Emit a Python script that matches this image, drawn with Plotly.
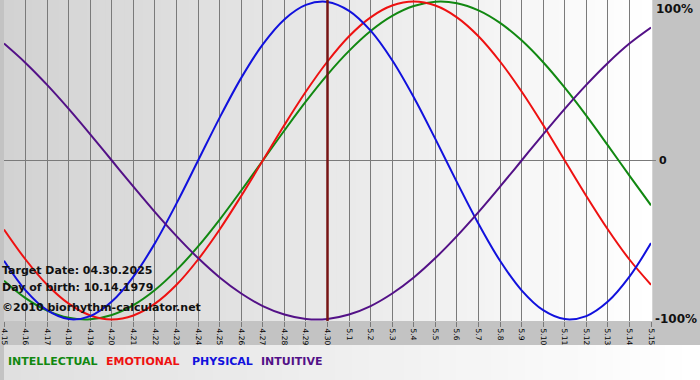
import plotly.graph_objects as go

# ---- data ----
days = ["4.15", "4.16", "4.17", "4.18", "4.19", "4.20", "4.21", "4.22", "4.23", "4.24",
        "4.25", "4.26", "4.27", "4.28", "4.29", "4.30", "5.1", "5.2", "5.3", "5.4",
        "5.5", "5.6", "5.7", "5.8", "5.9", "5.10", "5.11", "5.12", "5.13", "5.14", "5.15"]

intellectual = [-75.6, -86.6, -94.5, -99.0, -99.9, -97.2, -91.0, -81.5, -69.0, -54.1,
                -37.2, -18.9, 0.0, 18.9, 37.2, 54.1, 69.0, 81.5, 91.0, 97.2,
                99.9, 99.0, 94.5, 86.6, 75.6, 61.8, 45.8, 28.2, 9.5, -9.5, -28.2]

emotional = [-43.4, -62.3, -78.2, -90.1, -97.5, -100.0, -97.5, -90.1, -78.2, -62.3,
             -43.4, -22.3, 0.0, 22.3, 43.4, 62.3, 78.2, 90.1, 97.5, 100.0,
             97.5, 90.1, 78.2, 62.3, 43.4, 22.3, 0.0, -22.3, -43.4, -62.3, -78.2]

physical = [-63.1, -81.7, -94.2, -99.8, -97.9, -88.8, -73.1, -52.0, -27.0, 0.0,
            27.0, 52.0, 73.1, 88.8, 97.9, 99.8, 94.2, 81.7, 63.1, 39.8,
            13.6, -13.6, -39.8, -63.1, -81.7, -94.2, -99.8, -97.9, -88.8, -73.1, -52.0]

intuitive = [73.6, 61.4, 47.6, 32.5, 16.5, 0.0, -16.5, -32.5, -47.6, -61.4,
             -73.6, -83.7, -91.6, -96.9, -99.7, -99.7, -96.9, -91.6, -83.7, -73.6,
             -61.4, -47.6, -32.5, -16.5, 0.0, 16.5, 32.5, 47.6, 61.4, 73.6, 83.7]

target_day = "4.30"
target_text = "Target Date: 04.30.2025"
birth_text = "Day of birth: 10.14.1979"
copyright_text = "©2010 biorhythm-calculator.net"
series_names = ["INTELLECTUAL", "EMOTIONAL", "PHYSICAL", "INTUITIVE"]
y_labels = ["100%", "0", "-100%"]

# ---- styling ----
W, H = 700, 380
L, R, T, B = 0, 49, 0, 59
PW, PH = W - L - R, H - T - B
colors = {"INTELLECTUAL": "#118811", "EMOTIONAL": "#ee1111",
          "PHYSICAL": "#1111dd", "INTUITIVE": "#531187"}
font_fam = "DejaVu Sans, Verdana, sans-serif"


def py(px):  # pixel y (from top) -> paper y
    return (PH - px) / PH


def pxx(px):  # pixel x -> paper x
    return px / PW


fig = go.Figure()

for name, vals in zip(series_names, [intellectual, emotional, physical, intuitive]):
    fig.add_trace(go.Scatter(x=days, y=vals, mode="lines", name=name,
                             line=dict(color=colors[name], width=2, shape="spline"),
                             showlegend=False, hoverinfo="skip"))

shapes = []
# plot background gradient (left grey -> right white)
n = 70
for i in range(n):
    t = i / (n - 1)
    c = int(round(0xd2 + (0xff - 0xd2) * t))
    shapes.append(dict(type="rect", xref="paper", yref="paper",
                       x0=i / n, x1=(i + 1) / n + 0.002, y0=0, y1=1,
                       fillcolor=f"rgb({c},{c},{c})", line=dict(width=0), layer="below"))
# bottom legend strip gradient
m = 40
x_end = W / PW
for i in range(m):
    t = i / (m - 1)
    c = int(round(0xe0 + (0xff - 0xe0) * t))
    shapes.append(dict(type="rect", xref="paper", yref="paper",
                       x0=x_end * i / m, x1=x_end * (i + 1) / m + 0.003,
                       y0=py(H), y1=py(345),
                       fillcolor=f"rgb({c},{c},{c})", line=dict(width=0), layer="below"))
# target date line (category index of the target day)
ti = days.index(target_day)
shapes.append(dict(type="line", xref="x", yref="y", x0=ti, x1=ti,
                   y0=-101, y1=101, line=dict(color="#761414", width=2.5), layer="above"))
# zero tick extension on the right
shapes.append(dict(type="line", xref="paper", yref="y", x0=1, x1=1 + 5 / PW,
                   y0=0, y1=0, line=dict(color="#808080", width=1)))

annotations = []
for txt, ypx in [(target_text, 270), (birth_text, 287), (copyright_text, 307)]:
    annotations.append(dict(text=txt, xref="paper", yref="paper", x=pxx(0), y=py(ypx),
                            xanchor="left", yanchor="middle", showarrow=False, xshift=-4,
                            font=dict(family=font_fam, size=11, color="#111111", weight="bold")))
for name, xpx in zip(series_names, [2, 101, 187, 257]):
    annotations.append(dict(text=name, xref="paper", yref="paper", x=pxx(xpx), y=py(361),
                            xanchor="left", yanchor="middle", showarrow=False,
                            font=dict(family=font_fam, size=11, color=colors[name], weight="bold")))
annotations.append(dict(text=y_labels[0], xref="paper", yref="paper", x=1 + 3 / PW, y=1,
                        xanchor="left", yanchor="top", showarrow=False,
                        font=dict(family=font_fam, size=12, color="#111111", weight="bold")))
annotations.append(dict(text=y_labels[1], xref="paper", yref="y", x=1 + 6 / PW, y=0,
                        xanchor="left", yanchor="middle", showarrow=False,
                        font=dict(family=font_fam, size=11, color="#111111", weight="bold")))
annotations.append(dict(text=y_labels[2], xref="paper", yref="y", x=1 + 2 / PW, y=-100,
                        xanchor="left", yanchor="middle", showarrow=False,
                        font=dict(family=font_fam, size=12, color="#111111", weight="bold")))

fig.update_layout(
    width=W, height=H,
    margin=dict(l=L, r=R, t=T, b=B, pad=0),
    paper_bgcolor="#c3c3c3",
    plot_bgcolor="rgba(0,0,0,0)",
    shapes=shapes,
    annotations=annotations,
    showlegend=False,
    xaxis=dict(type="category", range=[0, len(days) - 1], showgrid=True,
               gridcolor="#7a7a7a", gridwidth=1, zeroline=False, showline=False,
               ticks="outside", ticklen=5, tickcolor="#7a7a7a", tickwidth=1,
               tickangle=90, tickfont=dict(family=font_fam, size=7.5, color="#000000"),
               fixedrange=True),
    yaxis=dict(range=[-101, 101], showgrid=False, showticklabels=False,
               zeroline=True, zerolinecolor="#7a7a7a", zerolinewidth=1,
               ticks="", fixedrange=True),
)

fig.write_html("out.html", config={"displayModeBar": False},
               post_script="document.body.style.margin='0';document.body.style.overflow='hidden';")
